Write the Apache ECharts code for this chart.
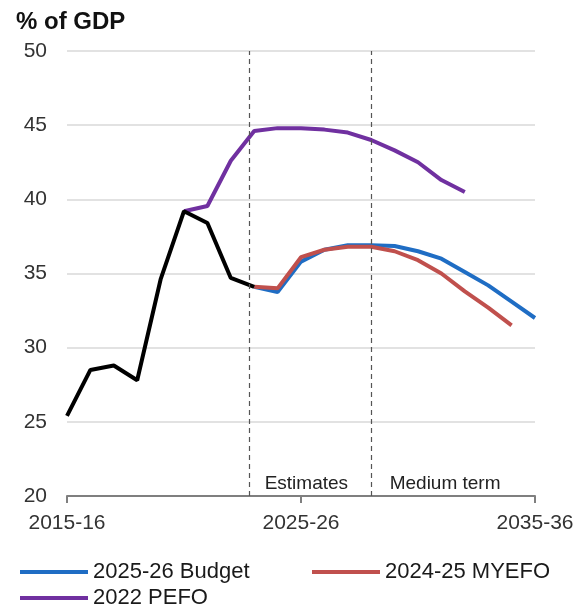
<!DOCTYPE html>
<html>
<head>
<meta charset="utf-8">
<script src="https://cdn.jsdelivr.net/npm/echarts@6/dist/echarts.min.js"></script>
<style>
html,body{margin:0;padding:0;background:#fff;}
#chart{width:586px;height:612px;}
</style>
</head>
<body>
<div id="chart"></div>
<script>
// Financial years (index 0 = 2015-16 ... 20 = 2035-36)
var years = ['2015-16','2016-17','2017-18','2018-19','2019-20','2020-21','2021-22','2022-23','2023-24','2024-25','2025-26','2026-27','2027-28','2028-29','2029-30','2030-31','2031-32','2032-33','2033-34','2034-35','2035-36'];
var xTickLabels = {0:'2015-16', 10:'2025-26', 20:'2035-36'};
var yTicks = [20,25,30,35,40,45,50];

// Actuals (2015-16 .. 2023-24)
var actualStart = 0;
var actual = [25.4, 28.5, 28.8, 27.8, 34.6, 39.2, 38.4, 34.7, 34.1];
// 2025-26 Budget (2023-24 .. 2035-36)
var budgetStart = 8;
var budget = [34.1, 33.75, 35.8, 36.6, 36.9, 36.9, 36.85, 36.5, 36.0, 35.1, 34.2, 33.1, 32.0];
// 2024-25 MYEFO (2023-24 .. 2034-35)
var myefoStart = 8;
var myefo = [34.1, 34.0, 36.1, 36.6, 36.8, 36.8, 36.5, 35.9, 35.0, 33.8, 32.7, 31.5];
// 2022 PEFO (2020-21 .. 2032-33)
var pefoStart = 5;
var pefo = [39.2, 39.55, 42.6, 44.6, 44.8, 44.8, 44.7, 44.5, 44.0, 43.3, 42.5, 41.3, 40.5];

// Period boundaries
var estimatesStart = 7.8;
var mediumStart = 13;
var mediumEnd = 20;

function pairs(start, arr){ return arr.map(function(v,i){ return [start+i, v]; }); }

var FONT = 'Liberation Sans, Arial, sans-serif';
var chart = echarts.init(document.getElementById('chart'));
var legendText = {fontFamily: FONT, fontSize: 22, color: '#1a1a1a'};

chart.setOption({
  animation: false,
  backgroundColor: '#fff',
  title: {
    text: '% of GDP', left: 11, top: 5,
    textStyle: {fontFamily: FONT, fontSize: 24, fontWeight: 'bold', color: '#111'}
  },
  grid: {left: 67, right: 51, top: 51, bottom: 116, containLabel: false},
  legend: [
    {data: ['2025-26 Budget'], left: 20, top: 561, itemWidth: 68, itemHeight: 4, icon: 'rect', textStyle: legendText, padding: 0},
    {data: ['2024-25 MYEFO'], left: 312, top: 561, itemWidth: 68, itemHeight: 4, icon: 'rect', textStyle: legendText, padding: 0},
    {data: ['2022 PEFO'], left: 20, top: 587, itemWidth: 68, itemHeight: 4, icon: 'rect', textStyle: legendText, padding: 0}
  ],
  xAxis: {
    type: 'value', min: 0, max: 20, interval: 10,
    axisLine: {show: true, lineStyle: {color: '#7f7f7f', width: 2}},
    axisTick: {show: true, length: 7, lineStyle: {color: '#7f7f7f', width: 2}},
    splitLine: {show: false},
    axisLabel: {
      fontFamily: FONT, fontSize: 21, color: '#333', margin: 17,
      formatter: function(v){ return xTickLabels[v] || ''; }
    }
  },
  yAxis: {
    type: 'value', min: yTicks[0], max: yTicks[yTicks.length-1], interval: 5,
    axisLine: {show: false}, axisTick: {show: false},
    splitLine: {show: true, lineStyle: {color: '#d9d9d9', width: 1.5}},
    axisLabel: {fontFamily: FONT, fontSize: 21, color: '#333', margin: 20}
  },
  series: [
    {
      name: '2025-26 Budget', type: 'line', data: pairs(budgetStart, budget),
      showSymbol: false, symbol: 'none', color: '#1f6dc4',
      lineStyle: {width: 4, color: '#1f6dc4'}, z: 2,
      markLine: {
        silent: true, symbol: 'none', label: {show: false},
        lineStyle: {type: [5, 4], color: '#555', width: 1.2},
        data: [{xAxis: estimatesStart}, {xAxis: mediumStart}]
      },
      markArea: {
        silent: true, itemStyle: {color: 'rgba(0,0,0,0)'},
        label: {position: 'insideBottom', distance: 3, fontFamily: FONT, fontSize: 19, color: '#222'},
        data: [
          [{xAxis: estimatesStart, name: 'Estimates', label: {offset: [-4, 0]}}, {xAxis: mediumStart}],
          [{xAxis: mediumStart, name: 'Medium term', label: {offset: [-8, 0]}}, {xAxis: mediumEnd}]
        ]
      }
    },
    {
      name: '2024-25 MYEFO', type: 'line', data: pairs(myefoStart, myefo),
      showSymbol: false, symbol: 'none', color: '#c0504d',
      lineStyle: {width: 4, color: '#c0504d'}, z: 3
    },
    {
      name: '2022 PEFO', type: 'line', data: pairs(pefoStart, pefo),
      showSymbol: false, symbol: 'none', color: '#7030a0',
      lineStyle: {width: 4, color: '#7030a0'}, z: 3
    },
    {
      name: 'Actual', type: 'line', data: pairs(actualStart, actual),
      showSymbol: false, symbol: 'none', color: '#000',
      lineStyle: {width: 4, color: '#000'}, z: 4
    }
  ]
});
</script>
</body>
</html>
